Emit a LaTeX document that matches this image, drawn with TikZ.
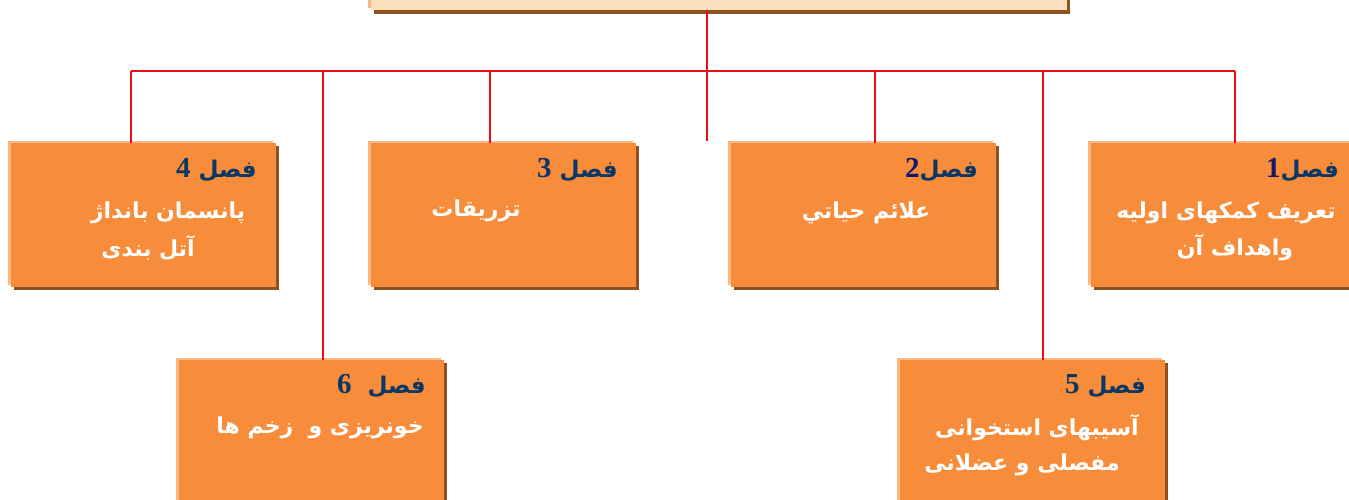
\documentclass[tikz,border=0pt]{standalone}
\usepackage{fontspec}
\usetikzlibrary{shadows}
\TeXXeTstate=1
\newfontfamily\arabicfont[Script=Arabic]{DejaVu Sans}
\newfontfamily\digitfont{Liberation Serif}
\definecolor{boxorange}{RGB}{247,140,59}
\definecolor{boxlight}{RGB}{250,185,130}
\definecolor{shadowbrown}{RGB}{140,82,32}
\definecolor{peach}{RGB}{252,224,190}
\definecolor{linkred}{RGB}{240,10,20}
\definecolor{headblue}{RGB}{10,55,100}
\definecolor{digitblue}{RGB}{20,20,110}
\newcommand\fa[1]{{\arabicfont\bfseries\beginR #1\endR}}
\newcommand\nr[2][headblue]{\beginL{\digitfont\bfseries\fontsize{29}{30}\selectfont\color{#1}#2}\endL}

\begin{document}
\begin{tikzpicture}[x=1pt,y=-1pt,
    link/.style={linkred,line width=1.6pt},
    chapbox/.style={rectangle,inner sep=0,minimum width=265pt,minimum height=144pt,
        fill=boxorange,
        general shadow={shadow xshift=-3pt,shadow yshift=2pt,fill=boxlight},
        drop shadow={shadow xshift=3pt,shadow yshift=-3pt,fill=shadowbrown,opacity=1}},
    head/.style={anchor=east,inner sep=0,text=headblue,font=\fontsize{23}{26}\selectfont},
    body/.style={inner sep=0,text=white,font=\fontsize{22}{26}\selectfont}]
       \useasboundingbox(0,0)rectangle(1349,500);
       \clip(0,0)rectangle(1349,500);

       % title box (cut off at the top)
       \node[rectangle,inner sep=0,minimum width=696pt,minimum height=70pt,fill=peach,
           general shadow={shadow xshift=-3pt,shadow yshift=2pt,fill=boxlight},
           drop shadow={shadow xshift=3pt,shadow yshift=-4pt,fill=shadowbrown,opacity=1}]
           (top)at(719,-25){};

       % chapter boxes
       \node[chapbox](b4)at(143.5,215){};
       \node[chapbox](b3)at(503.5,215){};
       \node[chapbox](b2)at(863.5,215){};
       \node[chapbox](b1)at(1223.5,215){};
       \node[chapbox](b6)at(311.5,432){};
       \node[chapbox](b5)at(1032.5,432){};

       % connectors
       \coordinate(bus)at(707,71);
       \coordinate(stub)at(707,141);
       \draw[link]([xshift=-12pt]top.south)--(stub);
       \draw[link]([xshift=-12.5pt]b4.north|-bus)--([xshift=11.5pt]b1.north|-bus);
       \foreach \b/\dx in{b4/-12.5,b3/-13.5,b2/11.5,b1/11.5,b6/11.5,b5/10.5}
           \draw[link]([xshift=\dx pt]\b.north|-bus)--([xshift=\dx pt]\b.north);

       % texts
       \node[head](h4)at(257,170){\fa{فصل \nr{4}}};
       \node[body](t4a)at(168,213){\fa{پانسمان بانداژ}};
       \node[body](t4b)at(148,248){\fa{آتل بندی}};

       \node[head](h3)at(618,170){\fa{فصل \nr{3}}};
       \node[body](t3a)at(476,211){\fa{تزریقات}};

       \node[head](h2)at(978,170){\fa{فصل\nr[digitblue]{2}}};
       \node[body](t2a)at(866,213){\fa{علائم حیاتي}};

       \node[head](h1)at(1339,170){\fa{فصل\nr[digitblue]{1}}};
       \node[body](t1a)at(1226,213){\fa{تعریف کمکهای اولیه}};
       \node[body](t1b)at(1235,248){\fa{واهداف آن}};

       \node[head](h6)at(426,386){\fa{فصل \ \nr{6}}};
       \node[body](t6a)at(320,428){\fa{خونریزی و \ زخم ها}};

       \node[head](h5)at(1146,386){\fa{فصل \nr{5}}};
       \node[body](t5a)at(1037,428){\fa{آسیبهای استخوانی}};
       \node[body](t5b)at(1022,465){\fa{مفصلی و عضلانی}};
      \end{tikzpicture}
\end{document}
